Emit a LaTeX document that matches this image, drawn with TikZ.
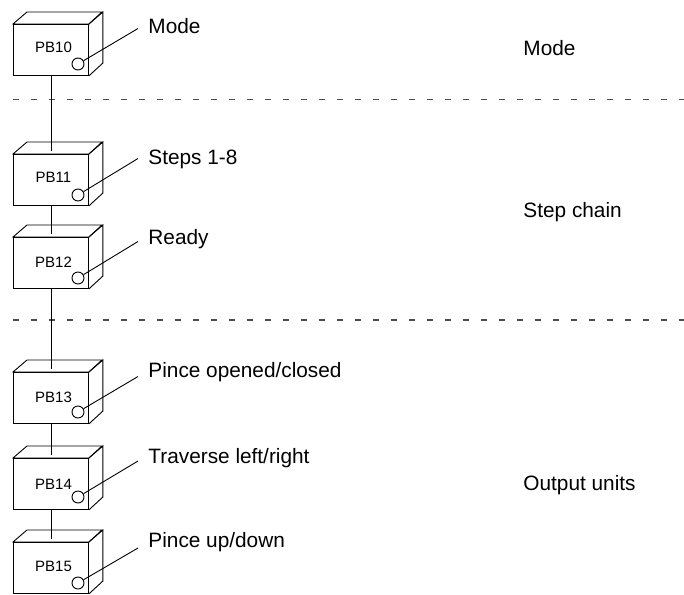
\documentclass[tikz,border=0pt]{standalone}
\usepackage{fontspec}
\setmainfont{Liberation Sans}
\usetikzlibrary{calc}
\begin{document}
\begin{tikzpicture}[x=1pt,y=-1pt,line width=0.9pt,
  front/.style={draw,fill=white,minimum width=75pt,minimum height=51pt,inner sep=0pt,anchor=north west},
  pbtext/.style={font=\fontsize{15}{18}\selectfont,inner sep=0pt},
  knob/.style={draw,circle,minimum size=12pt,inner sep=0pt},
  lbl/.style={font=\fontsize{20.8}{24}\selectfont,inner sep=0pt,anchor=base west},
  sep/.style={draw=black!70,line width=1.2pt,dash pattern=on 6pt off 12pt}]
\useasboundingbox (0,0) rectangle (684,594);
% separators
\coordinate (s1a) at (12.7,99.5); \coordinate (s1b) at (684,99.5);
\coordinate (s2a) at (12.7,320); \coordinate (s2b) at (684,320);
\draw[sep] (s1a) -- (s1b);
\draw[sep] (s2a) -- (s2b);
% boxes
\foreach \n/\t/\ly/\cy/\ey in {10/24/47/64/28.5, 11/154/177/195/158.5, 12/237/262/278/241.5, 13/372/397/412/376.5, 14/458/484/497/461, 15/542/566/583/548}{
  \node[front] (b\n) at (13,\t) {};
  \draw ($(b\n.north west)$) -- ++(14,-12) -- ++(75,0) -- (b\n.north east) -- cycle;
  \draw (b\n.north east) -- ++(14,-12) -- ++(0,51) -- (b\n.south east);
  \node[pbtext] (t\n) at (53.5,\ly) {PB\n};
  \node[knob] (c\n) at (78,\cy) {};
  \coordinate (e\n) at (138,\ey);
  \draw (c\n) -- (e\n);
}
% vertical connectors
\draw (b10.south) -- ($(b11.north)+(0,-3)$);
\draw (b11.south) -- ($(b12.north)+(0,-3)$);
\draw (b12.south) -- ($(b13.north)+(0,-3)$);
\draw (b13.south) -- ($(b14.north)+(0,-3)$);
\draw (b14.south) -- ($(b15.north)+(0,-3)$);
% labels
\node[lbl] (l10) at (148,33.5) {Mode};
\node[lbl] (l11) at (148,164) {Steps 1-8};
\node[lbl] (l12) at (148,244) {Ready};
\node[lbl] (l13) at (148,377.5) {Pince opened/closed};
\node[lbl] (l14) at (148,463) {Traverse left/right};
\node[lbl] (l15) at (148,547) {Pince up/down};
\node[lbl] (g1) at (523,55.5) {Mode};
\node[lbl] (g2) at (523,217) {Step chain};
\node[lbl] (g3) at (523,490) {Output units};
\end{tikzpicture}
\end{document}
